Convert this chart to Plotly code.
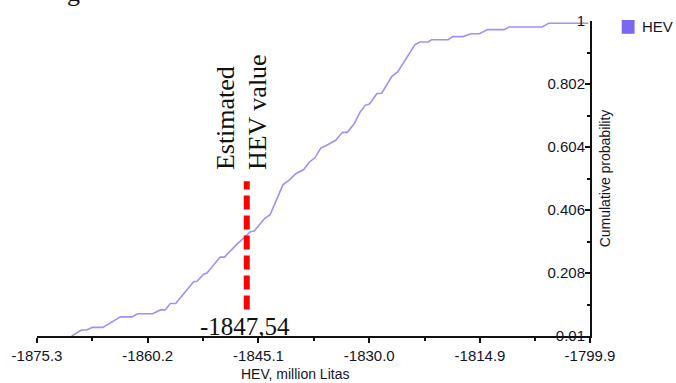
import plotly.graph_objects as go

# Cumulative distribution of HEV (million Litas)
hev_x = [-1870.57, -1869.25, -1868.55, -1867.76, -1866.32, -1863.92, -1862.36, -1861.58,
         -1859.53, -1858.47, -1857.81, -1857.12, -1856.39, -1853.92, -1853.48, -1852.57,
         -1852.13, -1850.32, -1849.74, -1848.07, -1847.03, -1846.22, -1845.68, -1844.24,
         -1843.52, -1842.58, -1841.77, -1840.92, -1839.97, -1838.93, -1838.16, -1837.41,
         -1836.59, -1835.92, -1834.57, -1833.66, -1832.99, -1832.08, -1831.27, -1830.56,
         -1829.98, -1828.94, -1828.30, -1826.91, -1826.10, -1823.76, -1823.09, -1821.95,
         -1821.51, -1819.25, -1818.58, -1817.23, -1816.11, -1814.99, -1813.85, -1811.61,
         -1810.94, -1806.42, -1805.53, -1800.13]
hev_p = [0.010, 0.029, 0.029, 0.037, 0.037, 0.070, 0.070, 0.080,
         0.080, 0.092, 0.092, 0.112, 0.112, 0.181, 0.182, 0.204,
         0.208, 0.258, 0.258, 0.298, 0.319, 0.338, 0.340, 0.380,
         0.391, 0.441, 0.485, 0.500, 0.521, 0.533, 0.557, 0.570,
         0.601, 0.608, 0.625, 0.650, 0.650, 0.676, 0.713, 0.735,
         0.739, 0.772, 0.773, 0.826, 0.841, 0.926, 0.934, 0.934,
         0.941, 0.941, 0.951, 0.951, 0.960, 0.960, 0.973, 0.973,
         0.981, 0.981, 0.993, 0.993]

x_ticks = [-1875.3, -1860.2, -1845.1, -1830.0, -1814.9, -1799.9]
x_ticktext = ["-1875.3", "-1860.2", "-1845.1", "-1830.0", "-1814.9", "-1799.9"]
x_minor = [-1867.75, -1852.65, -1837.55, -1822.45, -1807.4]
y_ticks = [0.01, 0.208, 0.406, 0.604, 0.802, 1.0]
y_ticktext = ["0.01", "0.208", "0.406", "0.604", "0.802", "1"]
y_minor = [0.109, 0.307, 0.505, 0.703, 0.901]

estimate_x = [-1846.7, -1846.7]
estimate_p = [0.093, 0.496]
estimate_label = "-1847,54"

line_color = "#9d92f6"
legend_color = "#7b68f0"

fig = go.Figure()
fig.add_trace(go.Scatter(x=hev_x, y=hev_p, mode="lines",
                         line=dict(color=line_color, width=1.6), showlegend=False,
                         hoverinfo="skip"))
fig.add_trace(go.Scatter(x=estimate_x, y=estimate_p, mode="lines",
                         line=dict(color="#ff0000", width=6, dash="14px,6px"),
                         showlegend=False, hoverinfo="skip"))

axis_font = dict(family="Arial, Liberation Sans, sans-serif", size=15, color="#141428")

fig.update_layout(
    width=676, height=383,
    margin=dict(l=32, r=86, t=16, b=47),
    paper_bgcolor="white", plot_bgcolor="white",
    showlegend=False,
    xaxis=dict(range=[-1875.3, -1799.9], tickvals=x_ticks, ticktext=x_ticktext,
               showgrid=False, zeroline=False, showline=True, linecolor="#111",
               linewidth=2, ticks="outside", ticklen=5, tickwidth=1.5, tickcolor="#111",
               tickfont=axis_font,
               minor=dict(tickvals=x_minor, ticks="outside", ticklen=3, tickcolor="#111",
                          showgrid=False)),
    yaxis=dict(range=[0.01, 1.0], tickvals=y_ticks, ticktext=y_ticktext, side="right",
               showgrid=False, zeroline=False, showline=True, linecolor="#111",
               linewidth=2, ticks="inside", ticklen=5, tickwidth=1.5, tickcolor="#111",
               ticklabelposition="inside", ticklabeloverflow="allow",
               tickfont=axis_font,
               minor=dict(tickvals=y_minor, ticks="inside", ticklen=3, tickcolor="#111",
                          showgrid=False)),
)

serif = "Liberation Serif, Times New Roman, serif"
annotations = [
    dict(text="HEV, million Litas", xref="paper", yref="paper", x=(292 - 32) / 558,
         y=-0.12, xanchor="center", yanchor="middle", showarrow=False,
         font=dict(family="Arial, Liberation Sans, sans-serif", size=14, color="#141428")),
    dict(text="Cumulative probability", xref="paper", yref="paper", x=(605 - 32) / 558,
         y=0.5, xanchor="center", yanchor="middle", textangle=-90, showarrow=False,
         font=dict(family="Arial, Liberation Sans, sans-serif", size=14, color="#141428")),
    dict(text="Estimated", x=estimate_x[0], y=estimate_p[1], xref="x", yref="y",
         xshift=-21, yshift=9, xanchor="center", yanchor="bottom", textangle=-90,
         showarrow=False, font=dict(family=serif, size=26, color="#111")),
    dict(text="HEV value", x=estimate_x[0], y=estimate_p[1], xref="x", yref="y",
         xshift=11, yshift=9, xanchor="center", yanchor="bottom", textangle=-90,
         showarrow=False, font=dict(family=serif, size=26, color="#111")),
    dict(text=estimate_label, x=estimate_x[0], y=estimate_p[0], xref="x", yref="y",
         xshift=-2, yshift=-1, xanchor="center", yanchor="top", showarrow=False,
         font=dict(family=serif, size=25, color="#111")),
    dict(text="HEV", xref="paper", yref="paper", x=(640 - 32) / 558, y=(336 - 22) / 320,
         xanchor="left", yanchor="middle", showarrow=False,
         font=dict(family="Arial, Liberation Sans, sans-serif", size=15, color="#141428")),
    dict(text="g", xref="paper", yref="paper", x=(69 - 32) / 558, y=(336 + 13) / 320,
         xanchor="center", yanchor="middle", showarrow=False,
         font=dict(family=serif, size=26, color="#111")),
]
fig.update_layout(annotations=annotations)
fig.add_shape(type="rect", xref="paper", yref="paper",
              x0=(622 - 32) / 558, x1=(635 - 32) / 558,
              y0=(336 - 29) / 320, y1=(336 - 15) / 320,
              fillcolor=legend_color, line=dict(width=0))

fig.write_html("out.html", config={"displayModeBar": False},
               post_script="document.body.style.margin='0';")
